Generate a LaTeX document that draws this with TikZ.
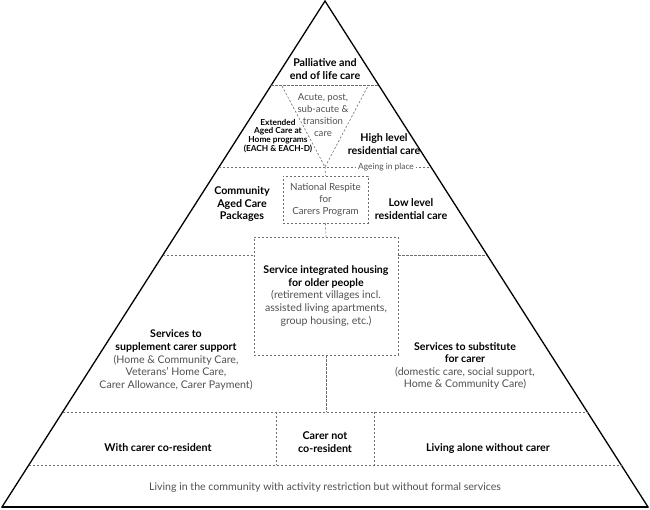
\documentclass[tikz,border=0pt]{standalone}
\usepackage{fontspec}
\setmainfont{Lato}
\usetikzlibrary{calc}
\definecolor{softgray}{HTML}{505050}
\definecolor{dashgray}{HTML}{6E6E6E}

\begin{document}
\begin{tikzpicture}
	[x=1pt, y=-1pt, font=\fontsize{10.6}{12.6}\selectfont,
	head/.style={align=center, inner sep=1pt, font=\fontsize{10.7}{12.8}\selectfont\bfseries},
	note/.style={align=center, inner sep=1pt, text=softgray},
	small/.style={font=\fontsize{8.4}{9}\selectfont},
	split/.style={draw=dashgray, line width=0.6pt, dash pattern=on 2.2pt off 1.8pt},
	box/.style={split, rectangle, align=center, inner sep=1pt, text=softgray}]
	\useasboundingbox (0,0) rectangle (650,509);
	% outline of the pyramid
	\coordinate (apex) at (325,1);
	\coordinate (bl) at (2,507);
	\coordinate (br) at (648,507);
	\draw[line width=1.3pt, line join=miter] (apex) -- (bl) -- (br) -- cycle;
	\draw[line width=2pt] (bl) -- (br);
	\foreach \name/\t in {top/0.166, age/0.328, mid/0.502, low/0.812, bot/0.917} {
		\coordinate (\name L) at ($(apex)!\t!(bl)$);
		\coordinate (\name R) at ($(apex)!\t!(br)$);
	}
	% levels
	\draw[split] (topL) -- (topR);
	\coordinate (vl) at (282,86);
	\coordinate (vr) at (368,86);
	\coordinate (vt) at (325,167);
	\draw[split] (vl) -- (vt) -- (vr);
	\draw[split] (ageL) -- (ageR);
	\draw[split] (lowL) -- (lowR);
	\draw[split] (botL) -- (botR);

	\node [head] (palliative) at (325,69) {Palliative and\\end of life care};
	\node [note, font=\fontsize{9.6}{11.8}\selectfont] (acute) at (323,115) {Acute, post,\\sub-acute \&\\transition\\care};
	\node [head, font=\fontsize{8.3}{8.9}\selectfont\bfseries] (extended) at (278,136) {Extended\\Aged Care at\\Home programs\\(EACH \& EACH-D)};
	\node [head] (highlevel) at (384,144) {High level\\residential care};
	\node [note, small, fill=white, inner xsep=2pt] (ageing) at (386,167) {Ageing in place};
	\node [head] (community) at (242,204) {Community\\Aged Care\\Packages};
	\node [box, minimum width=85, minimum height=47, font=\fontsize{9.8}{12}\selectfont] (respite) at (325.5,199.5) {National Respite\\for\\Carers Program};
	\node [head] (lowlevel) at (411,209) {Low level\\residential care};
	\node [box, minimum width=144, minimum height=118] (housing) at (326,296)
		{{\color{black}\bfseries Service integrated housing}\\{\color{black}\bfseries for older people}\\(retirement villages incl.\\assisted living apartments,\\group housing, etc.)};
	\draw[split] (vt) -- (respite.north);
	\draw[split] (respite.south) -- (housing.north);
	\draw[split] (midL) -- (midL -| housing.west);
	\draw[split] (housing.east |- midR) -- (midR);
	\draw[split] (housing.south) -- (housing.south |- lowL);

	\node [note] (supplement) at (176,360) {{\color{black}\bfseries Services to}\\{\color{black}\bfseries supplement carer support}\\(Home \& Community Care,\\Veterans’ Home Care,\\Carer Allowance, Carer Payment)};
	\node [note] (substitute) at (465,366) {{\color{black}\bfseries Services to substitute}\\{\color{black}\bfseries for carer}\\(domestic care, social support,\\Home \& Community Care)};

	% bottom rows
	\coordinate (sepA) at (276,412);
	\coordinate (sepB) at (374,412);
	\draw[split] (sepA) -- (sepA |- botL);
	\draw[split] (sepB) -- (sepB |- botL);
	\node [head] (coresident) at (158,448) {With carer co-resident};
	\node [head] (notcoresident) at (325,442) {Carer not\\co-resident};
	\node [head] (alone) at (488,448) {Living alone without carer};
	\node [note] (restriction) at (325,488) {Living in the community with activity restriction but without formal services};
\end{tikzpicture}
\end{document}
